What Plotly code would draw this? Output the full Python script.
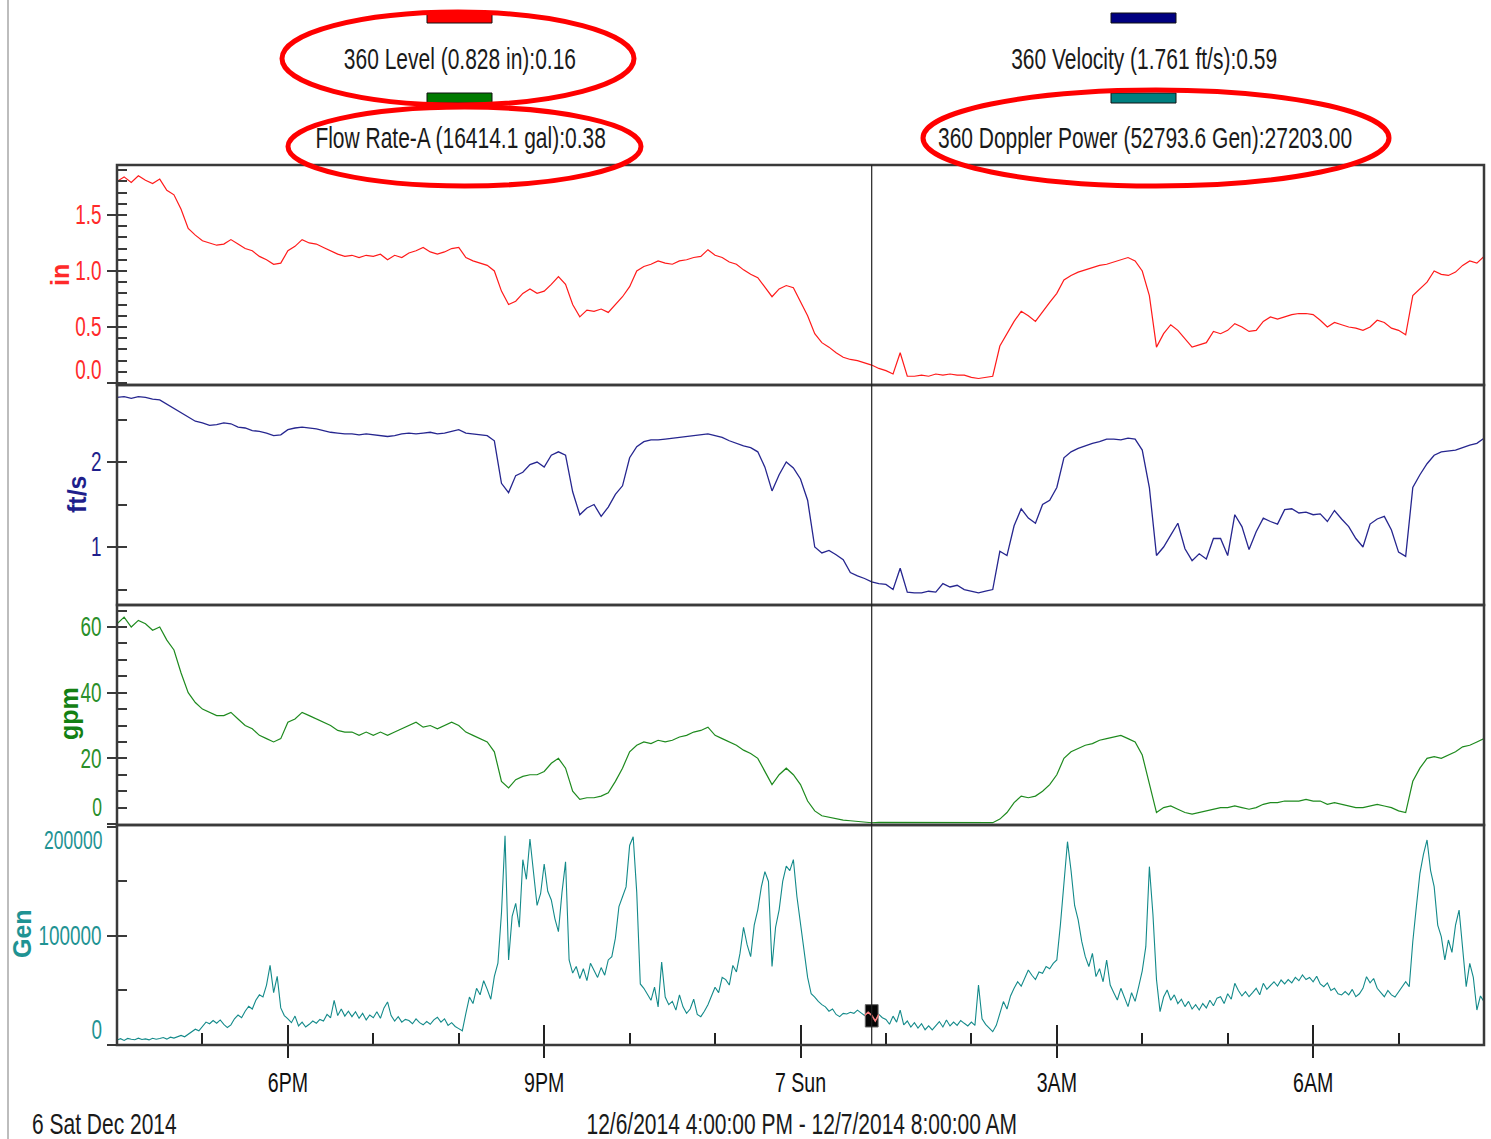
import pandas as pd
import plotly.graph_objects as go

# ---------------------------------------------------------------- data
# 5-minute readings, 12/6/2014 16:00 -> 12/7/2014 08:00
level_in = [
    1.80, 1.84, 1.79, 1.85, 1.81, 1.78, 1.82, 1.72, 1.68, 1.55, 1.38, 1.32,
    1.27, 1.25, 1.23, 1.24, 1.28, 1.24, 1.20, 1.18, 1.13, 1.10, 1.06, 1.07,
    1.18, 1.22, 1.28, 1.25, 1.24, 1.21, 1.18, 1.15, 1.13, 1.14, 1.12, 1.14,
    1.13, 1.15, 1.10, 1.14, 1.12, 1.16, 1.18, 1.21, 1.17, 1.15, 1.17, 1.20,
    1.21, 1.12, 1.09, 1.07, 1.05, 1.00, 0.82, 0.70, 0.73, 0.80, 0.84, 0.80,
    0.82, 0.88, 0.95, 0.88, 0.70, 0.59, 0.65, 0.64, 0.66, 0.63, 0.70, 0.77,
    0.86, 1.00, 1.04, 1.06, 1.09, 1.07, 1.06, 1.09, 1.10, 1.12, 1.13, 1.19,
    1.14, 1.12, 1.08, 1.06, 1.01, 0.97, 0.94, 0.86, 0.77, 0.84, 0.87, 0.85,
    0.73, 0.60, 0.44, 0.36, 0.32, 0.27, 0.23, 0.21, 0.20, 0.18, 0.16, 0.13,
    0.11, 0.08, 0.27, 0.06, 0.06, 0.07, 0.06, 0.08, 0.07, 0.08, 0.07, 0.07,
    0.05, 0.04, 0.05, 0.06, 0.33, 0.44, 0.55, 0.64, 0.60, 0.55, 0.64, 0.72,
    0.80, 0.92, 0.96, 0.99, 1.01, 1.03, 1.05, 1.06, 1.08, 1.10, 1.12, 1.09,
    1.00, 0.78, 0.32, 0.44, 0.52, 0.47, 0.39, 0.32, 0.34, 0.36, 0.46, 0.44,
    0.47, 0.53, 0.50, 0.46, 0.47, 0.55, 0.59, 0.57, 0.59, 0.61, 0.62, 0.62,
    0.61, 0.56, 0.50, 0.54, 0.52, 0.50, 0.49, 0.47, 0.50, 0.56, 0.54, 0.49,
    0.47, 0.43, 0.78, 0.84, 0.90, 1.00, 0.97, 0.96, 0.99, 1.05, 1.09, 1.07,
    1.13,
]

velocity_fts = [
    2.76, 2.77, 2.75, 2.77, 2.76, 2.74, 2.73, 2.68, 2.63, 2.57, 2.52, 2.48,
    2.46, 2.43, 2.44, 2.46, 2.45, 2.41, 2.40, 2.37, 2.36, 2.34, 2.31, 2.32,
    2.38, 2.40, 2.41, 2.40, 2.39, 2.37, 2.35, 2.34, 2.33, 2.33, 2.32, 2.33,
    2.32, 2.31, 2.30, 2.31, 2.33, 2.34, 2.33, 2.34, 2.35, 2.33, 2.34, 2.36,
    2.38, 2.34, 2.33, 2.32, 2.31, 2.25, 1.75, 1.64, 1.84, 1.88, 1.97, 2.00,
    1.94, 2.08, 2.12, 2.08, 1.65, 1.38, 1.46, 1.50, 1.36, 1.47, 1.62, 1.72,
    2.05, 2.18, 2.24, 2.26, 2.26, 2.27, 2.28, 2.29, 2.30, 2.31, 2.32, 2.33,
    2.31, 2.29, 2.25, 2.22, 2.19, 2.17, 2.12, 1.94, 1.66, 1.85, 2.00, 1.93,
    1.80, 1.55, 1.00, 0.93, 0.96, 0.91, 0.85, 0.70, 0.66, 0.63, 0.59, 0.57,
    0.56, 0.50, 0.75, 0.47, 0.46, 0.46, 0.48, 0.47, 0.57, 0.53, 0.55, 0.50,
    0.48, 0.46, 0.48, 0.50, 0.95, 0.90, 1.25, 1.45, 1.34, 1.28, 1.50, 1.55,
    1.70, 2.05, 2.12, 2.16, 2.19, 2.22, 2.24, 2.27, 2.27, 2.26, 2.28, 2.27,
    2.14, 1.70, 0.90, 1.00, 1.14, 1.28, 0.98, 0.84, 0.92, 0.86, 1.10, 1.10,
    0.90, 1.38, 1.24, 0.97, 1.18, 1.34, 1.30, 1.27, 1.44, 1.45, 1.40, 1.41,
    1.38, 1.39, 1.30, 1.43, 1.33, 1.24, 1.10, 1.00, 1.27, 1.33, 1.36, 1.20,
    0.94, 0.89, 1.70, 1.85, 1.98, 2.08, 2.12, 2.13, 2.14, 2.17, 2.20, 2.22,
    2.28,
]

flow_gpm = [
    61, 63, 60, 62, 61, 59, 60, 56, 53, 46, 40, 37,
    35, 34, 33, 33, 34, 32, 30, 29, 27, 26, 25, 26,
    31, 32, 34, 33, 32, 31, 30, 28.5, 28, 28, 27, 28,
    27, 28, 27, 28, 29, 30, 31, 29.5, 30, 29, 30, 31,
    30, 28, 27, 26, 25, 22, 13, 11, 13.5, 14.5, 15, 15,
    16, 18.5, 20, 17, 10, 7.5, 8, 8, 8.5, 9.5, 13, 17,
    22, 24, 25, 24.5, 25.5, 25, 25.5, 26.5, 27, 28, 28.5, 29.5,
    27, 26, 25, 24, 22.5, 21.5, 20, 16, 12, 15, 17, 15,
    12, 7, 4, 2.5, 2, 1.5, 1.2, 1.0, 0.8, 0.6, 0.38, 0.5,
    0.5, 0.4, 0.5, 0.4, 0.4, 0.4, 0.4, 0.4, 0.4, 0.4, 0.4, 0.4,
    0.4, 0.4, 0.4, 0.4, 1.5, 3.5, 6.5, 8.5, 8, 8.5, 10, 12,
    15, 20, 22, 23, 24, 24.5, 25.5, 26, 26.5, 27, 26, 25,
    21, 12, 3.5, 5, 5.5, 4.5, 3.5, 3, 3.5, 4, 4.5, 5,
    5, 5.5, 5, 4.5, 5, 6, 6.5, 6.5, 7, 7, 7, 7.5,
    7, 7, 6, 6.5, 6, 5.5, 5, 5, 5.5, 6, 5.5, 5,
    4, 3.5, 13, 17, 20, 20.5, 20, 21, 22, 23.5, 24, 25,
    26,
]

# Doppler power is logged every 2.5 minutes
doppler_gen = [
    4500, 5800, 4200, 6000, 5200, 4800, 6300, 5000, 5600, 4700, 6200, 5300,
    5900, 6800, 5400, 7200, 6300, 7800, 8800, 7500, 9800, 11500, 14500, 13000,
    17500, 21000, 19500, 22500, 20000, 23000, 19000, 16000, 18500, 24000, 27500, 25000,
    31000, 35500, 33000, 41000, 46000, 44000, 55000, 73000, 48000, 63000, 34000, 27000,
    24000, 20500, 26500, 17500, 21000, 16500, 19000, 22000, 20000, 23500, 22000, 28000,
    25000, 41000, 27000, 33000, 26500, 31000, 26000, 30500, 24500, 29000, 23000, 27500,
    25000, 30500, 24500, 34000, 39500, 27000, 22000, 26000, 21000, 23500, 22500, 19500,
    24000, 20500, 18500, 21500, 19000, 23000, 25500, 21000, 24000, 18000, 20500, 17000,
    15000, 13000, 29000, 44000, 38000, 52000, 46000, 59000, 51000, 42000, 63000, 75000,
    121000, 192000, 78000, 118000, 130000, 108000, 170000, 152000, 189000, 160000, 128000, 139000,
    166000, 141000, 133000, 116000, 104000, 140000, 168000, 78000, 66000, 72000, 61000, 70000,
    59000, 75000, 68000, 62000, 71000, 64000, 78000, 81000, 98000, 127000, 136000, 145000,
    183000, 191000, 140000, 56000, 52000, 47000, 41000, 53000, 35000, 76000, 44000, 37000,
    40000, 32000, 46000, 35000, 29000, 33000, 42000, 28000, 26000, 31000, 37000, 45000,
    53000, 48000, 62000, 60000, 55000, 73000, 67000, 84000, 108000, 92000, 81000, 110000,
    124000, 145000, 159000, 150000, 72000, 108000, 124000, 150000, 164000, 160000, 170000, 136000,
    110000, 84000, 62000, 47000, 44000, 40000, 37000, 35000, 31000, 33000, 28000, 26000,
    29000, 28500, 30000, 29000, 32000, 29500, 27000, 30000, 27203, 22000, 28000, 25000,
    23500, 19000, 26500, 21000, 32000, 18500, 22000, 16500, 20500, 15500, 19500, 14000,
    17500, 13800, 18000, 21500, 16500, 22900, 17500, 21000, 18000, 22500, 19900, 17500,
    21000, 18000, 55000, 24000, 19000, 15500, 12200, 18000, 28000, 39800, 33000, 45000,
    52000, 58100, 54000, 62000, 68800, 64000, 60000, 67000, 65700, 72000, 70000, 74900,
    78000, 110000, 150000, 186500, 160000, 128000, 114700, 95000, 81000, 72000, 84000, 62700,
    70000, 58000, 78000, 55000, 48000, 41300, 52000, 44000, 35200, 48000, 40000, 53500,
    68000, 90200, 163600, 120000, 60000, 30600, 44000, 50500, 41000, 46000, 38000, 42000,
    35200, 40000, 33000, 37000, 32100, 38000, 34000, 41000, 36000, 43000, 44300, 38000,
    47000, 42000, 56600, 50000, 45000, 49000, 44300, 48000, 52000, 46000, 56600, 51000,
    55000, 58000, 54000, 59600, 56000, 60000, 57000, 62000, 59000, 64200, 60000, 62000,
    58000, 63000, 56000, 53500, 57000, 50000, 52000, 47000, 45900, 49000, 46000, 51000,
    44300, 47000, 52000, 62700, 57000, 61000, 52000, 48000, 44300, 50000, 46000, 44000,
    49000, 53500, 58000, 53500, 95000, 126900, 157500, 175000, 188100, 160000, 145300, 110000,
    99400, 78000, 96300, 85000, 110000, 123800, 90000, 53500, 74900, 62000, 32100, 45000,
    39800,
]

# x-axis labels
tick_times = ["2014-12-06 18:00", "2014-12-06 21:00", "2014-12-07 00:00",
              "2014-12-07 03:00", "2014-12-07 06:00"]
tick_labels = ["6PM", "9PM", "7 Sun", "3AM", "6AM"]

t_start, t_end = "2014-12-06 16:00", "2014-12-07 08:00"
t5 = pd.date_range(t_start, periods=len(level_in), freq="5min")
t_dop = pd.date_range(t_start, periods=len(doppler_gen), freq="150s")
hours = pd.date_range(t_start, t_end, freq="1h")

CURSOR_IDX = 106                      # cursor position in the 5-minute series
cursor_t = t5[CURSOR_IDX]
cursor_dop = int(t_dop.get_loc(cursor_t))

# ---------------------------------------------------------------- styling
W, H = 1491, 1139
PL, PR, PT, PB = 117, 1484, 165, 1045          # plot area in pixels


def fx(px):
    return (px - PL) / (PR - PL)


def fy(py):
    return (PB - py) / (PB - PT)


# "Narrow" texts get horizontally condensed after rendering (see post_script)
NARROW = "Liberation Sans Narrow, Liberation Sans, Arial, sans-serif"
BOLD = "Liberation Sans, Arial, sans-serif"
FRAME = "#3a3a3a"

C_LEVEL, C_VEL, C_FLOW, C_DOP = "#ff1a1a", "#26268f", "#1e8a1e", "#138a8a"
T_LEVEL, T_VEL, T_FLOW, T_DOP = "#ff2a2a", "#1f1f8c", "#2a8f2a", "#1f9393"
YTICK_SIZE = 27

panels = [
    # (domain, range, major ticks, major labels, minor ticks, tick colour)
    ([0.75, 1.0], [-0.018, 1.946], [0.0, 0.5, 1.0, 1.5], ["", "0.5", "1.0", "1.5"],
     [round(0.1 * i, 1) for i in range(0, 20)], T_LEVEL),
    ([0.5, 0.75], [0.318, 2.906], [1, 2], ["1", "2"],
     [0.5, 1.0, 1.5, 2.0, 2.5], T_VEL),
    ([0.25, 0.5], [-0.3, 66.7], [0, 20, 40, 60], ["", "20", "40", "60"],
     list(range(0, 70, 5)), T_FLOW),
    ([0.0, 0.25], [0, 201800], [0, 100000, 200000], ["", "100000", ""],
     [50000, 100000, 150000], T_DOP),
]

fig = go.Figure()

fig.add_trace(go.Scatter(x=t5, y=level_in, yaxis="y", mode="lines",
                         line=dict(color=C_LEVEL, width=1.2), showlegend=False))
fig.add_trace(go.Scatter(x=t5, y=velocity_fts, yaxis="y2", mode="lines",
                         line=dict(color=C_VEL, width=1.3), showlegend=False))
fig.add_trace(go.Scatter(x=t5, y=flow_gpm, yaxis="y3", mode="lines",
                         line=dict(color=C_FLOW, width=1.2), showlegend=False))
fig.add_trace(go.Scatter(x=t_dop, y=doppler_gen, yaxis="y4", mode="lines",
                         line=dict(color=C_DOP, width=1.1), showlegend=False))
# highlighted readings under the cursor marker
seg = slice(cursor_dop - 2, cursor_dop + 3)
fig.add_trace(go.Scatter(x=t_dop[seg], y=doppler_gen[seg], yaxis="y4", mode="lines",
                         line=dict(color="#ff7a7a", width=1.5), showlegend=False))

# helper traces so the tick-only overlay axes get drawn
for xa, ya in [("x2", "y4"), ("x3", "y4"), ("x", "y5"), ("x", "y6"), ("x", "y7"), ("x", "y8")]:
    fig.add_trace(go.Scatter(x=[cursor_t], y=[None], xaxis=xa, yaxis=ya, mode="lines",
                             showlegend=False, hoverinfo="skip"))

layout = dict(
    width=W, height=H,
    margin=dict(l=PL, r=W - PR, t=PT, b=H - PB),
    paper_bgcolor="white", plot_bgcolor="white",
    showlegend=False,
    xaxis=dict(type="date", range=[t_start, t_end], anchor="y4",
               tickmode="array", tickvals=tick_times, ticktext=tick_labels,
               ticks="outside", ticklen=12, tickwidth=1.5, tickcolor="#222",
               tickfont=dict(family=NARROW, size=28, color="#111"),
               showgrid=False, zeroline=False, showline=False),
    xaxis2=dict(type="date", range=[t_start, t_end], anchor="y4", overlaying="x",
                tickmode="array", tickvals=tick_times, ticks="inside", ticklen=20,
                tickwidth=1.5, tickcolor="#222", showticklabels=False,
                showgrid=False, zeroline=False, showline=False),
    xaxis3=dict(type="date", range=[t_start, t_end], anchor="y4", overlaying="x",
                tickmode="array", tickvals=list(hours), ticks="inside", ticklen=12,
                tickwidth=1.5, tickcolor="#222", showticklabels=False,
                showgrid=False, zeroline=False, showline=False),
)

for i, (dom, rng, major, labels, minor, tcol) in enumerate(panels, start=1):
    main = "yaxis" if i == 1 else f"yaxis{i}"
    layout[main] = dict(domain=dom, range=rng, anchor="x",
                        tickmode="array", tickvals=major, ticktext=labels,
                        ticks="outside", ticklen=9, tickwidth=2, tickcolor=FRAME,
                        tickfont=dict(family=NARROW, size=YTICK_SIZE, color=tcol),
                        showgrid=False, zeroline=False, showline=False)
    layout[f"yaxis{i + 4}"] = dict(range=rng, anchor="x",
                                   overlaying="y" if i == 1 else f"y{i}",
                                   tickmode="array", tickvals=minor,
                                   ticks="inside", ticklen=10, tickwidth=2,
                                   tickcolor=FRAME, showticklabels=False,
                                   showgrid=False, zeroline=False, showline=False)

fig.update_layout(**layout)

shapes = []
# page edge on the left
shapes.append(dict(type="line", xref="paper", yref="paper",
                   x0=fx(8), x1=fx(8), y0=fy(0), y1=fy(H),
                   line=dict(color="#bdbdbd", width=2)))
# panel frames
for dom, *_ in panels:
    shapes.append(dict(type="rect", xref="paper", yref="paper",
                       x0=0, x1=1, y0=dom[0], y1=dom[1],
                       line=dict(color=FRAME, width=2.5)))
# cursor line through all panels
shapes.append(dict(type="line", xref="x", yref="paper", x0=cursor_t, x1=cursor_t,
                   y0=0, y1=1, line=dict(color="#222", width=1.2)))
# cursor marker on the Doppler trace
shapes.append(dict(type="rect", xref="x", yref="y4", layer="below",
                   x0=cursor_t - pd.Timedelta(minutes=4.5),
                   x1=cursor_t + pd.Timedelta(minutes=4.5),
                   y0=16500, y1=37000, fillcolor="#050505",
                   line=dict(color="#666", width=1)))

# legend swatches (colour bar above each legend entry)
swatches = [(427, 13, "#ff0000"), (427, 93, "#007a00"),
            (1111, 13, "#000080"), (1111, 93, "#008080")]
for sx, sy, col in swatches:
    shapes.append(dict(type="rect", xref="paper", yref="paper",
                       x0=fx(sx), x1=fx(sx + 65), y0=fy(sy + 10), y1=fy(sy),
                       fillcolor=col, line=dict(color="#111", width=1)))

# hand-drawn red highlight ellipses
for x0, y0, x1, y1 in [(282, 12, 634, 105), (288, 107, 641, 186), (923, 90, 1389, 186)]:
    shapes.append(dict(type="circle", xref="paper", yref="paper",
                       x0=fx(x0), x1=fx(x1), y0=fy(y1), y1=fy(y0),
                       line=dict(color="#ff0000", width=5)))

fig.update_layout(shapes=shapes)

ann = []


def text(px, py, s, size=30, color="#1a1a1a", family=NARROW, xanchor="center",
         angle=0, pad=1):
    ann.append(dict(x=fx(px), y=fy(py), xref="paper", yref="paper", text=s,
                    showarrow=False, xanchor=xanchor, yanchor="middle", align=xanchor,
                    borderpad=pad, textangle=angle,
                    font=dict(family=family, size=size, color=color)))


# legend entries with the readings at the cursor
text(460, 58, f"360 Level (0.828 in):{level_in[CURSOR_IDX]:.2f}")
text(460, 137, f"Flow Rate-A (16414.1 gal):{flow_gpm[CURSOR_IDX]:.2f}")
text(1144, 58, f"360 Velocity (1.761 ft/s):{velocity_fts[CURSOR_IDX]:.2f}")
text(1145, 137, f"360 Doppler Power (52793.6 Gen):{doppler_gen[cursor_dop]:.2f}")

# axis titles
text(60, 275, "<b>in</b>", size=25, color=T_LEVEL, family=BOLD, angle=-90)
text(77, 494, "<b>ft/s</b>", size=25, color=T_VEL, family=BOLD, angle=-90)
text(69, 714, "<b>gpm</b>", size=25, color="#138013", family=BOLD, angle=-90)
text(22, 934, "<b>Gen</b>", size=25, color=T_DOP, family=BOLD, angle=-90)

# end-of-scale labels kept inside their panels
text(103, 370, "0.0", size=YTICK_SIZE, color=T_LEVEL, xanchor="right", pad=0)
text(103, 807, "0", size=25, color=T_FLOW, xanchor="right", pad=0)
text(103, 840, "200000", size=25, color=T_DOP, xanchor="right", pad=0)
text(103, 1030, "0", size=YTICK_SIZE, color=T_DOP, xanchor="right", pad=0)

# footer
text(30, 1123, "6 Sat Dec 2014", xanchor="left")
text(801, 1123, "12/6/2014 4:00:00 PM - 12/7/2014 8:00:00 AM")

fig.update_layout(annotations=ann)

# condense the narrow-face texts horizontally around their anchor point
condense_js = """
var gd = document.getElementById('{plot_id}');
gd.querySelectorAll('text').forEach(function (el) {
    var ff = el.style.fontFamily || '';
    if (ff.indexOf('Narrow') < 0) { return; }
    var x = parseFloat(el.getAttribute('x')) || 0;
    var t = el.getAttribute('transform') || '';
    el.setAttribute('transform',
        t + ' translate(' + x + ',0) scale(0.7,1) translate(' + (-x) + ',0)');
});
"""

fig.write_html("out.html", post_script=condense_js)
